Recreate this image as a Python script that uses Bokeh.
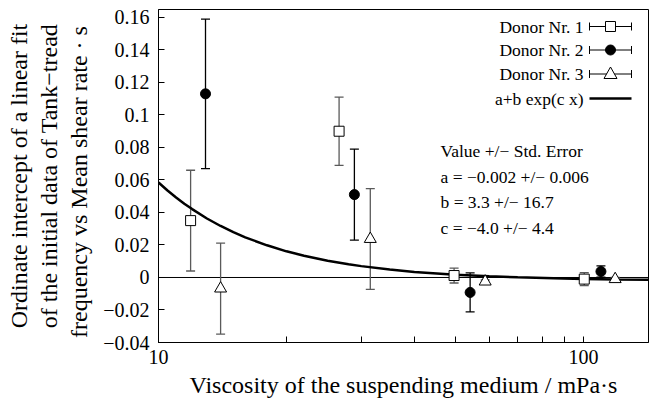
from bokeh.plotting import figure
from bokeh.models import (ColumnDataSource, Whisker, TeeHead, Span, Label, Arrow,
                          BoxAnnotation, PolyAnnotation, FixedTicker, Range1d)
from bokeh.embed import file_html
from bokeh.resources import INLINE

# ---------------- data ----------------
donor1_x = [11.9, 26.6, 49.6, 100.4]
donor1_y = [0.035, 0.090, 0.0012, -0.001]
donor1_err = [0.031, 0.021, 0.0046, 0.004]

donor2_x = [12.9, 28.9, 54.1, 109.9]
donor2_y = [0.113, 0.051, -0.0092, 0.0037]
donor2_err = [0.046, 0.028, 0.012, 0.0035]

donor3_x = [14.0, 31.5, 58.7, 118.7]
donor3_y = [-0.0068, 0.0237, -0.0025, -0.001]
donor3_err = [0.028, 0.031, 0.001, 0.001]

fit_x = [10, 10.5, 11, 11.5, 12, 13, 14, 15, 16, 18, 20, 22, 25, 28, 30, 35,
         40, 50, 60, 70, 85, 100, 120, 142]
fit_y = [0.0585, 0.0535, 0.0492, 0.0454, 0.0421, 0.0363, 0.0317, 0.0279, 0.0247,
         0.0198, 0.0161, 0.0134, 0.0103, 0.0081, 0.0070, 0.0049, 0.0034, 0.0017,
         0.0007, 0.0001, -0.0005, -0.0009, -0.0012, -0.0014]

y_ticks = [-0.04, -0.02, 0, 0.02, 0.04, 0.06, 0.08, 0.1, 0.12, 0.14, 0.16]
y_tick_labels = ["\u22120.04", "\u22120.02", "0", "0.02", "0.04", "0.06", "0.08",
                 "0.1", "0.12", "0.14", "0.16"]
x_ticks = [10, 100]
x_tick_labels = ["10", "100"]
x_minor_ticks = [20, 30, 40, 50, 60, 70, 80, 90]

legend_labels = ["Donor Nr. 1", "Donor Nr. 2", "Donor Nr. 3", "a+b exp(c x)"]
fit_text = ["Value +/\u2212 Std. Error", "a = \u22120.002 +/\u2212 0.006",
            "b = 3.3 +/\u2212 16.7", "c = \u22124.0 +/\u2212 4.4"]

x_label = "Viscosity of the suspending medium / mPa\u00b7s"
y_label = ("Ordinate intercept of a linear fit\n"
           "of the initial data of Tank\u2212tread\n"
           "frequency  vs  Mean shear rate \u00b7 s")

FONT = "Liberation Serif"
GRAY = "#5a5a5a"

# ---------------- figure ----------------
p = figure(width=651, height=403, x_axis_type="log",
           x_range=Range1d(10, 142.2), y_range=Range1d(-0.04, 0.1649),
           output_backend="svg", toolbar_location=None,
           min_border_left=158, min_border_right=3, min_border_top=9,
           min_border_bottom=61)
p.background_fill_color = "white"
p.border_fill_color = "white"
p.outline_line_color = "black"
p.outline_line_width = 1
p.xgrid.visible = False
p.ygrid.visible = False

for ax in (p.xaxis[0], p.yaxis[0]):
    ax.axis_line_color = "black"
    ax.major_tick_line_color = "black"
    ax.minor_tick_line_color = "black"
    ax.major_tick_in = 6
    ax.major_tick_out = 0
    ax.minor_tick_in = 6
    ax.minor_tick_out = 0
    ax.major_label_text_font = FONT
    ax.major_label_text_font_size = "20px"
    ax.major_label_text_color = "black"
    ax.axis_label_text_font = FONT
    ax.axis_label_text_font_size = "24px"
    ax.axis_label_text_font_style = "normal"
    ax.axis_label_text_color = "black"

p.xaxis.ticker = FixedTicker(ticks=x_ticks, minor_ticks=x_minor_ticks)
p.xaxis.major_label_overrides = dict(zip(x_ticks, x_tick_labels))
p.xaxis.major_label_standoff = 7
p.xaxis.axis_label = x_label
p.xaxis.axis_label_standoff = 5

p.yaxis.ticker = FixedTicker(ticks=y_ticks, minor_ticks=[])
p.yaxis.major_label_overrides = dict(zip(y_ticks, y_tick_labels))
p.yaxis.major_label_standoff = 9
p.yaxis.axis_label = y_label
p.yaxis.axis_label_standoff = 8
p.yaxis.axis_label_text_line_height = 1.15

p.add_layout(Span(location=0, dimension="width", line_color="black",
                  line_width=1, level="underlay"))

# ---------------- fit curve ----------------
p.line(fit_x, fit_y, line_color="black", line_width=2.5)

# ---------------- error bars + points ----------------
def series(xs, ys, errs, color):
    src = ColumnDataSource(dict(
        x=xs, y=ys,
        lo=[y - e for y, e in zip(ys, errs)],
        hi=[y + e for y, e in zip(ys, errs)]))
    w = Whisker(source=src, base="x", upper="hi", lower="lo",
                line_color=color, line_width=1.3,
                upper_head=TeeHead(size=9, line_color=color, line_width=1.3),
                lower_head=TeeHead(size=9, line_color=color, line_width=1.3),
                level="underlay")
    p.add_layout(w)
    return src

s1 = series(donor1_x, donor1_y, donor1_err, GRAY)
s2 = series(donor2_x, donor2_y, donor2_err, "black")
s3 = series(donor3_x, donor3_y, donor3_err, GRAY)

p.scatter("x", "y", source=s1, marker="square", size=10, fill_color="white",
          line_color="black", line_width=1)
p.scatter("x", "y", source=s2, marker="circle", size=10, fill_color="black",
          line_color="black")
p.scatter("x", "y", source=s3, marker="triangle", size=12, fill_color="white",
          line_color="black", line_width=1)

# ---------------- legend (label left, sample right) ----------------
leg_rows = [316, 292.5, 268.5, 244]
txt_right = 425
smp_l, smp_r, smp_c = 431, 473, 452
for lab, yy in zip(legend_labels, leg_rows):
    p.add_layout(Label(x=txt_right, y=yy, x_units="screen", y_units="screen",
                       text=lab, text_align="right", text_baseline="middle",
                       text_font=FONT, text_font_size="17.5px", text_color="black"))

for i, yy in enumerate(leg_rows[:3]):
    p.add_layout(Arrow(x_start=smp_l, y_start=yy, x_end=smp_r, y_end=yy,
                       start_units="screen", end_units="screen",
                       line_color="black", line_width=1,
                       start=TeeHead(size=8, line_color="black", line_width=1),
                       end=TeeHead(size=8, line_color="black", line_width=1)))
# square
p.add_layout(BoxAnnotation(left=smp_c - 5, right=smp_c + 5,
                           bottom=leg_rows[0] - 5, top=leg_rows[0] + 5,
                           left_units="screen", right_units="screen",
                           bottom_units="screen", top_units="screen",
                           fill_color="white", fill_alpha=1,
                           line_color="black", line_alpha=1, line_width=1))
# circle
p.add_layout(BoxAnnotation(left=smp_c - 5, right=smp_c + 5,
                           bottom=leg_rows[1] - 5, top=leg_rows[1] + 5,
                           left_units="screen", right_units="screen",
                           bottom_units="screen", top_units="screen",
                           border_radius=5,
                           fill_color="black", fill_alpha=1,
                           line_color="black", line_alpha=1, line_width=1))
# triangle
p.add_layout(PolyAnnotation(xs=[smp_c - 6.5, smp_c + 6.5, smp_c],
                            ys=[leg_rows[2] - 4.5, leg_rows[2] - 4.5, leg_rows[2] + 7],
                            xs_units="screen", ys_units="screen",
                            fill_color="white", fill_alpha=1,
                            line_color="black", line_alpha=1, line_width=1))
# fit line sample
p.add_layout(Arrow(x_start=smp_l, y_start=leg_rows[3], x_end=smp_r, y_end=leg_rows[3],
                   start_units="screen", end_units="screen",
                   line_color="black", line_width=2.5, start=None, end=None))

# ---------------- fit parameter text ----------------
for t, yy in zip(fit_text, [192, 166, 141, 115]):
    p.add_layout(Label(x=282, y=yy, x_units="screen", y_units="screen",
                       text=t, text_align="left", text_baseline="middle",
                       text_font=FONT, text_font_size="17.5px", text_color="black"))

open("out.html", "w").write(file_html(p, INLINE))
